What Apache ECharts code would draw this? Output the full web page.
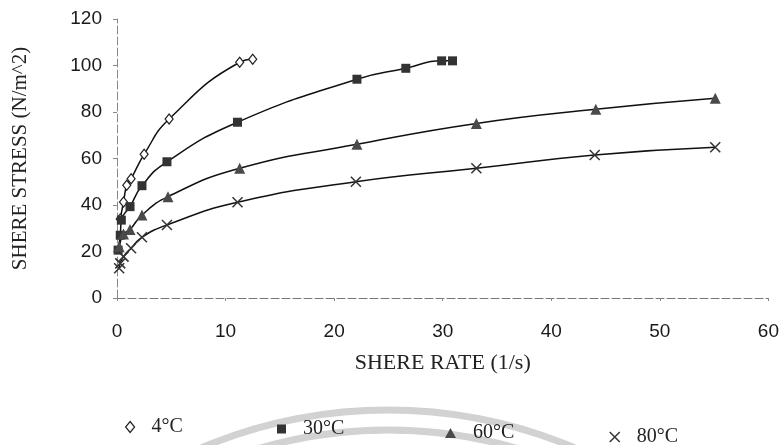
<!DOCTYPE html>
<html>
<head>
<meta charset="utf-8">
<script src="https://cdn.jsdelivr.net/npm/echarts@6/dist/echarts.min.js"></script>
<style>
	html, body { margin: 0; padding: 0; background: #fff; }
	#chart { width: 782px; height: 445px; }
</style>
</head>
<body>
<div id="chart"></div>
<script>
// shear rate (1/s) and shear stress (N/m^2)
var rate4 = [0.3, 0.6, 0.9, 1.3, 2.5, 4.8, 11.3, 12.5]
var stress4 = [34, 41.3, 48.5, 51.3, 61.8, 77, 101.4, 102.7]
var rate30 = [0.1, 0.3, 0.4, 1.2, 2.3, 4.6, 11.1, 22.1, 26.6, 29.9, 30.9]
var stress30 = [20.6, 27, 33.5, 39.3, 48.3, 58.6, 75.6, 94.1, 98.8, 102, 102]
var rate60 = [0.2, 0.6, 1.2, 2.3, 4.7, 11.3, 22.1, 33.1, 44.1, 55.1]
var stress60 = [22, 27.5, 29.5, 35.7, 43.6, 55.8, 66.1, 75.1, 81.2, 85.9]
var rate80 = [0.2, 0.3, 0.6, 1.3, 2.3, 4.6, 11.1, 22.0, 33.1, 44.0, 55.1]
var stress80 = [12.8, 14.9, 17.8, 21.4, 26.1, 31.4, 41.2, 50.0, 55.8, 61.5, 64.8]

var names = ['4°C', '30°C', '60°C', '80°C']
var xTicks = [0, 10, 20, 30, 40, 50, 60]
var yTicks = [0, 20, 40, 60, 80, 100, 120]

var crossPath = 'path://M0,0L10,10M10,0L0,10'

function pairs(xs, ys) {
	let out = []
	for (let i = 0; i < xs.length; i++) {
		out.push([xs[i], ys[i]])
	}
	return out
}

let myChart = echarts.init(document.getElementById('chart'), null, { renderer: 'canvas' })

var markers = [
	{ symbol: 'diamond', size: [8, 10], style: { color: '#fff', borderColor: '#222', borderWidth: 1.2 } },
	{ symbol: 'rect', size: 9, style: { color: '#333', borderColor: '#333', borderWidth: 0 } },
	{ symbol: 'triangle', size: 11, style: { color: '#4a4a4a', borderColor: '#4a4a4a', borderWidth: 0 } },
	{ symbol: crossPath, size: 10, style: { color: 'transparent', borderColor: '#333', borderWidth: 1.5 } }
]
var datasets = [
	pairs(rate4, stress4),
	pairs(rate30, stress30),
	pairs(rate60, stress60),
	pairs(rate80, stress80)
]

let series = []
for (let i in names) {
	series.push({
		name: names[i],
		type: 'line',
		data: datasets[i],
		smooth: 0.5,
		symbol: markers[i].symbol,
		symbolSize: markers[i].size,
		showAllSymbol: true,
		itemStyle: markers[i].style,
		lineStyle: { color: '#111', width: 1.5 },
		z: 3
	})
}

// legends sit on a slight slant in the scan, so each one is placed on its own
var legendPos = [[120, 412], [272, 414], [440, 418], [604, 422]]
var legendIconSize = [[9, 11], [9, 9], [11, 10], [10, 10]]
let legends = []
for (let i in names) {
	legends.push({
		data: [{ name: names[i], icon: markers[i].symbol }],
		left: legendPos[i][0],
		top: legendPos[i][1],
		itemWidth: legendIconSize[i][0],
		itemHeight: legendIconSize[i][1],
		itemGap: 0,
		itemStyle: markers[i].style,
		lineStyle: { width: 0, opacity: 0 },
		textStyle: { fontFamily: 'Liberation Serif', fontSize: 20, color: '#222', padding: [0, 0, 0, 12] },
		selectedMode: false
	})
}

var option = {
	animation: false,
	backgroundColor: '#fff',
	grid: { left: 117, right: 12, top: 19, bottom: 147, containLabel: false },
	// faint seal watermark behind the legend
	graphic: [
		{ type: 'circle', z: 0, silent: true, shape: { cx: 388, cy: 890, r: 480 }, style: { fill: null, stroke: '#d2d2d2', lineWidth: 7 } },
		{ type: 'circle', z: 0, silent: true, shape: { cx: 388, cy: 890, r: 460 }, style: { fill: null, stroke: '#d2d2d2', lineWidth: 7 } }
	],
	legend: legends,
	xAxis: {
		type: 'value',
		min: xTicks[0],
		max: xTicks[xTicks.length - 1],
		interval: 10,
		name: 'SHERE RATE (1/s)',
		nameLocation: 'middle',
		nameGap: 54,
		nameTextStyle: { fontFamily: 'Liberation Serif', fontSize: 22, color: '#222' },
		axisLine: { lineStyle: { color: '#777', width: 1, type: [8, 3] } },
		axisTick: { show: true, length: 3, lineStyle: { color: '#888' } },
		axisLabel: { margin: 24, fontFamily: 'Liberation Sans', fontSize: 19, color: '#1a1a1a' },
		splitLine: { show: false }
	},
	yAxis: {
		type: 'value',
		min: yTicks[0],
		max: yTicks[yTicks.length - 1],
		interval: 20,
		name: 'SHERE STRESS (N/m^2)',
		nameLocation: 'middle',
		nameGap: 86,
		nameRotate: 90,
		nameTextStyle: { fontFamily: 'Liberation Serif', fontSize: 21, color: '#222' },
		axisLine: { show: true, lineStyle: { color: '#888', width: 1, type: [8, 3] } },
		axisTick: { show: true, length: 4, lineStyle: { color: '#888' } },
		axisLabel: { margin: 15, fontFamily: 'Liberation Sans', fontSize: 19, color: '#1a1a1a' },
		splitLine: { show: false }
	},
	series: series
}
myChart.setOption(option)
</script>
</body>
</html>
